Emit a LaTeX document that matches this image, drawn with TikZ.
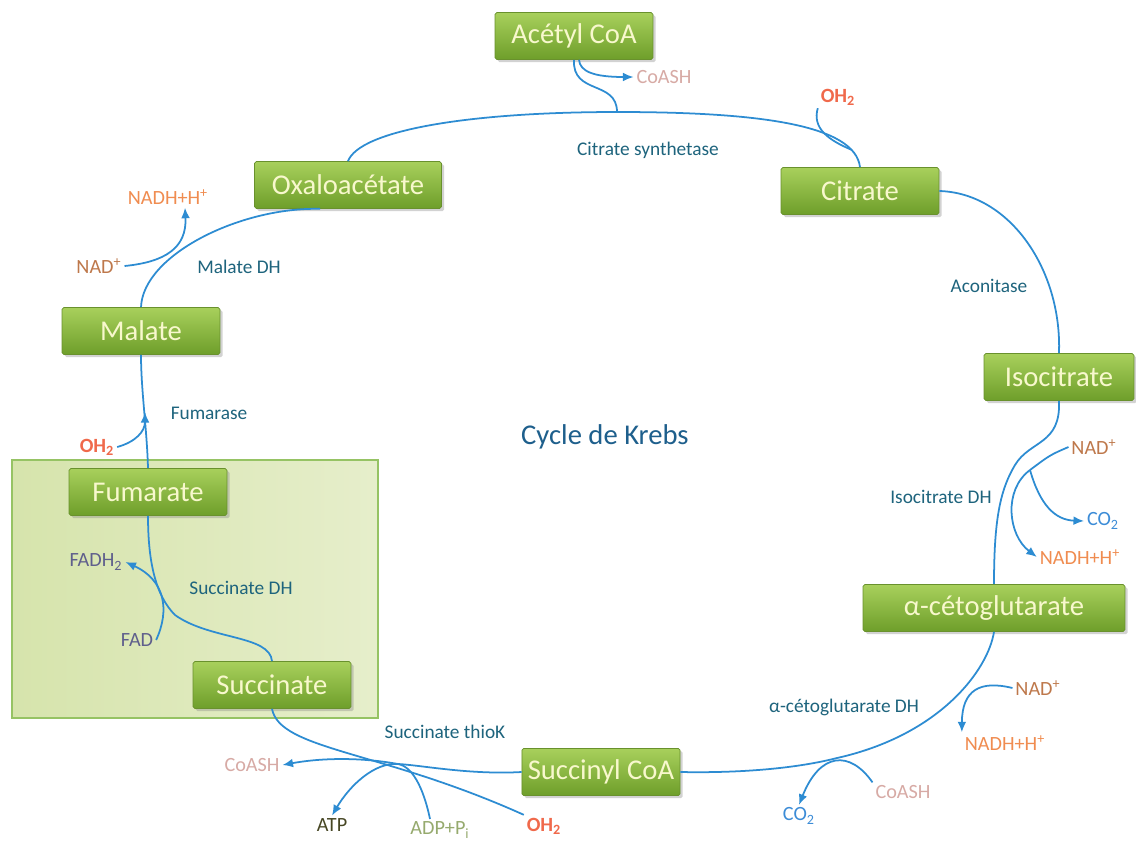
\documentclass[tikz,border=0pt]{standalone}
\usepackage{fontspec}
\setmainfont{Carlito}
\usepackage{tikz}
\usetikzlibrary{arrows.meta,positioning,shadows}

\definecolor{linecol}{RGB}{45,140,210}
\definecolor{boxtop}{RGB}{168,208,92}
\definecolor{boxbot}{RGB}{110,158,42}
\definecolor{boxedge}{RGB}{105,145,45}
\definecolor{boxtext}{RGB}{248,248,205}
\definecolor{zoneleft}{RGB}{214,228,172}
\definecolor{zoneright}{RGB}{230,238,203}
\definecolor{zonedge}{RGB}{150,195,100}
\definecolor{enzcol}{RGB}{30,100,125}
\definecolor{titlecol}{RGB}{30,95,140}
\definecolor{coacol}{RGB}{215,170,165}
\definecolor{eaucol}{RGB}{240,105,75}
\definecolor{nadcol}{RGB}{190,120,75}
\definecolor{nadhcol}{RGB}{240,140,80}
\definecolor{co2col}{RGB}{60,140,215}
\definecolor{adpcol}{RGB}{150,170,110}
\definecolor{atpcol}{RGB}{70,70,35}
\definecolor{fadcol}{RGB}{95,95,140}

\tikzset{
  metab/.style={draw=boxedge, top color=boxtop, bottom color=boxbot,
    rounded corners=1pt, minimum width=3.16cm, minimum height=0.94cm,
    text=boxtext, font=\fontsize{16.3}{18}\selectfont,
    drop shadow={opacity=0.35, shadow xshift=1.5pt, shadow yshift=-1.5pt}},
  enzyme/.style={text=enzcol, font=\fontsize{11}{13}\selectfont},
  cofac/.style={inner sep=1.5pt, font=\fontsize{11.5}{13}\selectfont},
  voie/.style={draw=linecol, line width=1pt},
  voiefl/.style={voie, -{Latex[length=6pt,width=5pt]}}
}

\begin{document}
\begin{tikzpicture}[x=0.02cm, y=-0.02cm]
	  \useasboundingbox[fill=white] (0,0) rectangle (1136,843);
	  % Zone verte (fumarate, succinate)
	  \draw[draw=zonedge, line width=1.2pt, left color=zoneleft, right color=zoneright]
	      (12,460) rectangle (378,718);
	  % Metabolites du cycle
	  \node[metab] (acetyl) at (574,36) {Acétyl CoA};
	  \node[metab] (citrate) at (860,191) {Citrate};
	  \node[metab, minimum width=3cm] (isocit) at (1059,377) {Isocitrate};
	  \node[metab, minimum width=5.24cm] (akg) at (994,608) {α-cétoglutarate};
	  \node[metab] (succoa) at (601,772) {Succinyl CoA};
	  \node[metab] (succ) at (272,685) {Succinate};
	  \node[metab] (fum) at (148,492) {Fumarate};
	  \node[metab] (malate) at (141,331) {Malate};
	  \node[metab, minimum width=3.74cm] (oxalo) at (348,185) {Oxaloacétate};
	  % Titre
	  \node[text=titlecol, font=\fontsize{16.3}{18}\selectfont, anchor=west] (titre) at (515,437) {Cycle de Krebs};
	  % Enzymes
	  \node[enzyme] (cs) at (648,150) {Citrate synthetase};
	  \node[enzyme] (aco) at (989,286) {Aconitase};
	  \node[enzyme] (idh) at (941,497) {Isocitrate DH};
	  \node[enzyme] (akgdh) at (844,707) {α-cétoglutarate DH};
	  \node[enzyme] (stk) at (445,732) {Succinate thioK};
	  \node[enzyme] (sdh) at (241,588) {Succinate DH};
	  \node[enzyme] (fumase) at (209,413) {Fumarase};
	  \node[enzyme] (mdh) at (239,267) {Malate DH};
	  % Cofacteurs
	  \node[cofac, text=coacol] (coash1) at (664,77) {CoASH};
	  \node[cofac, text=eaucol, font=\fontsize{11.5}{13}\selectfont\bfseries] (oh2a) at (838,97) {OH\textsubscript{2}};
	  \node[cofac, text=nadcol] (nad1) at (1094,447) {NAD\textsuperscript{+}};
	  \node[cofac, text=co2col] (co2a) at (1103,521) {CO\textsubscript{2}};
	  \node[cofac, text=nadhcol] (nadh1) at (1080,557) {NADH+H\textsuperscript{+}};
	  \node[cofac, text=nadcol] (nad2) at (1038,688) {NAD\textsuperscript{+}};
	  \node[cofac, text=nadhcol] (nadh2) at (1005,743) {NADH+H\textsuperscript{+}};
	  \node[cofac, text=coacol] (coash2) at (903,792) {CoASH};
	  \node[cofac, text=co2col] (co2b) at (799,816) {CO\textsubscript{2}};
	  \node[cofac, text=eaucol, font=\fontsize{11.5}{13}\selectfont\bfseries] (oh2c) at (544,826) {OH\textsubscript{2}};
	  \node[cofac, text=adpcol] (adp) at (440,830) {ADP+P\textsubscript{i}};
	  \node[cofac, text=atpcol] (atp) at (332,825) {ATP};
	  \node[cofac, text=coacol] (coash3) at (252,765) {CoASH};
	  \node[cofac, text=fadcol] (fad) at (137,640) {FAD};
	  \node[cofac, text=fadcol] (fadh) at (96,562) {FADH\textsubscript{2}};
	  \node[cofac, text=eaucol, font=\fontsize{11.5}{13}\selectfont\bfseries] (oh2b) at (97,447) {OH\textsubscript{2}};
	  \node[cofac, text=nadcol] (nad3) at (99,266) {NAD\textsuperscript{+}};
	  \node[cofac, text=nadhcol] (nadh3) at (168,197) {NADH+H\textsuperscript{+}};
	  % Points de jonction
	  \coordinate (csj) at (617,112);
	  \coordinate (cij) at (852,150);
	  \coordinate (idhm) at (1015,465);
	  \coordinate (idhj) at (1030,470);
	  \coordinate (akgj) at (837,758);
	  \coordinate (stj) at (398,764);
	  \coordinate (sdhm) at (175,615);
	  \coordinate (fj) at (145,412);
	  % Oxaloacetate -> citrate
	  \draw[voie] (oxalo.north) .. controls (360,130) and (470,112) .. (csj)
	      .. controls (760,112) and (855,125) .. (citrate.north);
	  \draw[voie] (acetyl.south) .. controls (572,95) and (617,80) .. (csj);
	  \draw[voiefl] ([xshift=0.1cm]acetyl.south) .. controls (580,72) and (595,77) .. (coash1.west);
	  \draw[voie] (oh2a.south west) .. controls (812,128) and (828,140) .. (cij);
	  % Citrate -> isocitrate
	  \draw[voie] (citrate.east) .. controls (1010,193) and (1062,270) .. (isocit.north);
	  % Isocitrate -> alpha-cetoglutarate
	  \draw[voie] (isocit.south) .. controls (1061,445) and (1030,440) .. (idhm)
	      .. controls (1000,490) and (994,520) .. (akg.north);
	  \draw[voie] (nad1.west) .. controls (1050,455) .. (idhj);
	  \draw[voiefl] (idhj) .. controls (1003,490) and (1008,535) .. (nadh1.west);
	  \draw[voiefl] (idhj) .. controls (1040,505) and (1055,520) .. (co2a.west);
	  % alpha-cetoglutarate -> succinyl CoA
	  \draw[voie] (akg.south) .. controls (988,670) and (940,735) .. (akgj)
	      .. controls (790,770) and (730,773) .. (succoa.east);
	  \draw[voiefl] (nad2.west) .. controls (980,680) and (962,690) .. (nadh2.north west);
	  \draw[voiefl] (coash2.north west) .. controls (850,750) and (820,752) .. (co2b.north);
	  % Succinyl CoA -> succinate
	  \draw[voiefl] (succoa.west) .. controls (470,775) and (420,765) .. (stj)
	      .. controls (360,757) and (320,758) .. (coash3.east);
	  \draw[voie] (succ.south) .. controls (280,750) and (380,750) .. (oh2c.north west);
	  \draw[voiefl] ([xshift=-0.2cm]adp.north) .. controls (425,795) and (415,767) .. (stj)
	      .. controls (375,762) and (350,785) .. (atp.north);
	  % Succinate -> fumarate
	  \draw[voie] (succ.north) .. controls (270,635) and (210,640) .. (sdhm)
	      .. controls (155,595) and (148,560) .. (fum.south);
	  \draw[voiefl] (fad.east) .. controls (170,610) and (165,580) .. (fadh.east);
	  % Fumarate -> malate
	  \draw[voie] (fum.north) .. controls (147,430) and (141,390) .. (malate.south);
	  \draw[voiefl] (oh2b.east) .. controls (135,442) and (145,432) .. (fj);
	  % Malate -> oxaloacetate
	  \draw[voie] (malate.north) .. controls (143,255) and (240,207) .. ([xshift=-0.56cm]oxalo.south);
	  \draw[voiefl] (nad3.east) .. controls (165,262) and (187,248) .. ([xshift=0.34cm]nadh3.south);
\end{tikzpicture}
\end{document}
